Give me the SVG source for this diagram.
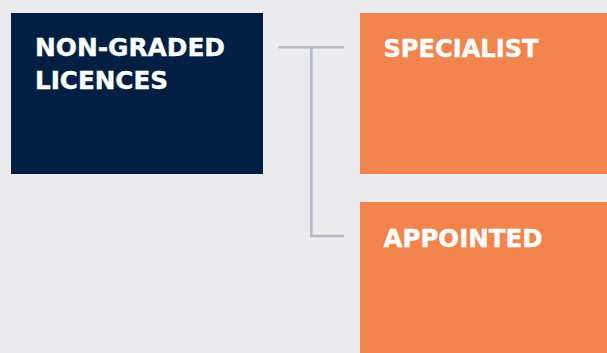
<svg xmlns="http://www.w3.org/2000/svg" width="607" height="353" viewBox="0 0 607 353">
<style>
.lbl{font-family:"DejaVu Sans","Liberation Sans",sans-serif;font-weight:bold;font-size:24px;fill:#ffffff;stroke:#ffffff;stroke-width:0.4}
.conn{fill:none;stroke:#b5bac7;stroke-width:2.6}
</style>
<rect x="0" y="0" width="607" height="353" fill="#ececee"/>
<g id="node-nongraded">
<rect x="11" y="13" width="252" height="161" fill="#001f42"/>
<text class="lbl" x="35" y="56" textLength="190" lengthAdjust="spacingAndGlyphs">NON-GRADED</text>
<text class="lbl" x="35" y="89" textLength="133" lengthAdjust="spacingAndGlyphs">LICENCES</text>
</g>
<g id="node-specialist">
<rect x="360" y="13" width="247" height="161" fill="#f2844e"/>
<text class="lbl" x="383.5" y="57" textLength="155" lengthAdjust="spacingAndGlyphs">SPECIALIST</text>
</g>
<g id="node-appointed">
<rect x="360" y="202" width="247" height="151" fill="#f2844e"/>
<text class="lbl" x="383.5" y="246.5" textLength="159" lengthAdjust="spacingAndGlyphs">APPOINTED</text>
</g>
<g id="connectors">
<path class="conn" d="M278.5 47.3 H344"/>
<path class="conn" d="M311.3 47.3 V236 H344"/>
</g>
</svg>
